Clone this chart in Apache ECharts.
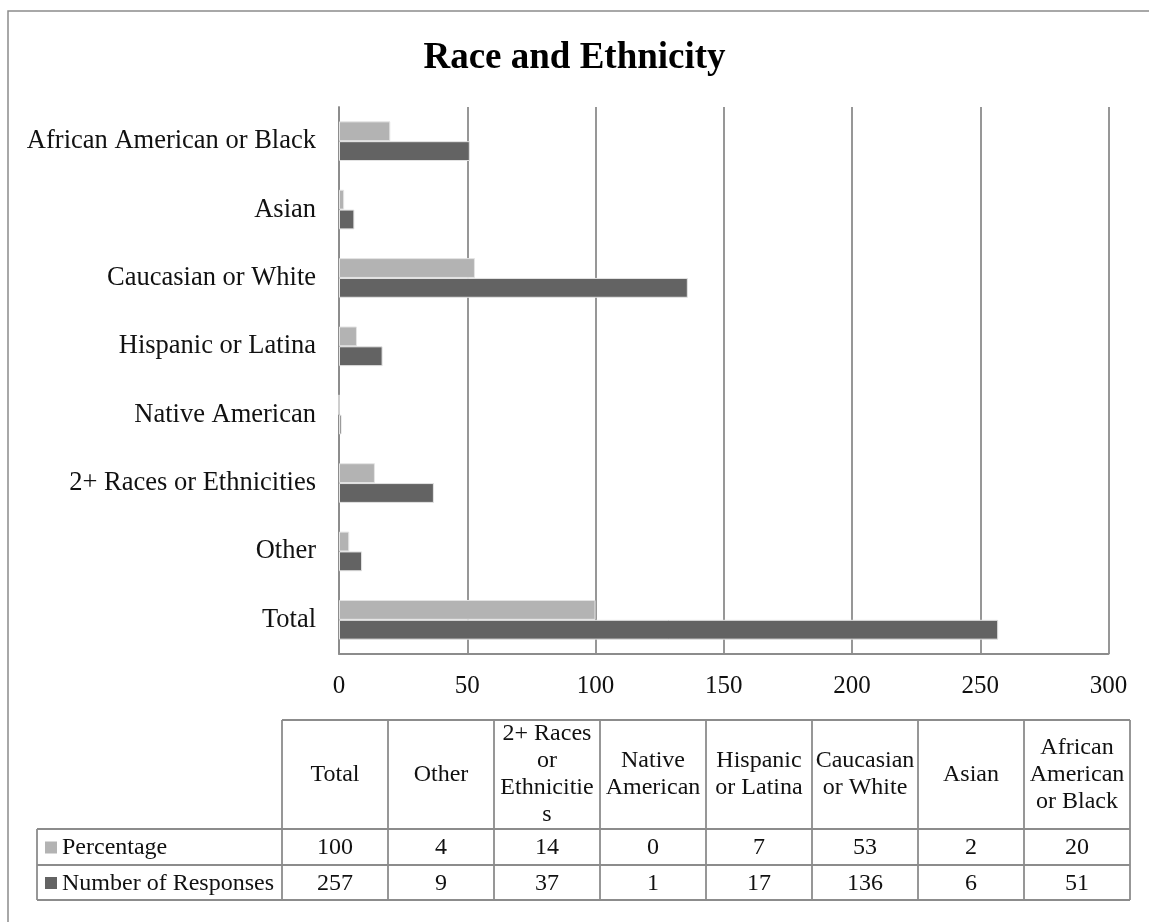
<!DOCTYPE html>
<html>
<head>
<meta charset="utf-8">
<script src="https://cdn.jsdelivr.net/npm/echarts@6/dist/echarts.min.js"></script>
<style>
  html, body { margin: 0; padding: 0; background: #fff; }
  #chart { width: 1149px; height: 922px; }
</style>
</head>
<body>
<div id="chart"></div>
<script>
// Categories, in table order (first one sits at the bottom of the bar chart)
const categories = [
  'Total', 'Other', '2+ Races or Ethnicities', 'Native American',
  'Hispanic or Latina', 'Caucasian or White', 'Asian', 'African American or Black'
];
// Column headings of the data table, wrapped as they appear in their cells
const tableHeaders = [
  'Total', 'Other', '2+ Races\nor\nEthnicitie\ns', 'Native\nAmerican',
  'Hispanic\nor Latina', 'Caucasian\nor White', 'Asian', 'African\nAmerican\nor Black'
];
const seriesNames = ['Percentage', 'Number of Responses'];
const percentage = [100, 4, 14, 0, 7, 53, 2, 20];
const responses = [257, 9, 37, 1, 17, 136, 6, 51];
const xTicks = [0, 50, 100, 150, 200, 250, 300];

const FONT = '"Liberation Serif", "Times New Roman", serif';
const LINE = '#8c8c8c';
const COLORS = ['#b3b3b3', '#636363'];

const chart = echarts.init(document.getElementById('chart'), null, { renderer: 'canvas' });

// ---- data table below the axis ----
const tbl = {
  left: 37, labelRight: 282, colW: 106,
  top: 720, headBottom: 829, row1Bottom: 865, bottom: 900
};
const ncol = categories.length;
const tableRight = tbl.labelRight + tbl.colW * ncol;
const graphics = [];

// chart frame
graphics.push({
  type: 'rect', silent: true,
  shape: { x: 8, y: 11, width: 1300, height: 1100 },
  style: { fill: 'none', stroke: LINE, lineWidth: 1.5 }
});

function hline(x1, x2, y) {
  graphics.push({ type: 'line', silent: true, shape: { x1, y1: y, x2, y2: y },
    style: { stroke: LINE, lineWidth: 1.8 } });
}
function vline(x, y1, y2) {
  graphics.push({ type: 'line', silent: true, shape: { x1: x, y1, x2: x, y2 },
    style: { stroke: LINE, lineWidth: 1.8 } });
}
hline(tbl.labelRight, tableRight, tbl.top);
hline(tbl.left, tableRight, tbl.headBottom);
hline(tbl.left, tableRight, tbl.row1Bottom);
hline(tbl.left, tableRight, tbl.bottom);
vline(tbl.left, tbl.headBottom, tbl.bottom);
for (let i = 0; i <= ncol; i++) {
  vline(tbl.labelRight + tbl.colW * i, tbl.top, tbl.bottom);
}

// header cells
tableHeaders.forEach((h, i) => {
  graphics.push({
    type: 'text', silent: true,
    x: tbl.labelRight + tbl.colW * (i + 0.5),
    y: (tbl.top + tbl.headBottom) / 2,
    style: { text: h, font: '24px ' + FONT, fill: '#111', align: 'center',
      verticalAlign: 'middle', lineHeight: 27 }
  });
});

// value rows with legend keys
const rows = [percentage, responses];
const rowTops = [tbl.headBottom, tbl.row1Bottom];
const rowBottoms = [tbl.row1Bottom, tbl.bottom];
rows.forEach((vals, r) => {
  const cy = (rowTops[r] + rowBottoms[r]) / 2;
  graphics.push({
    type: 'rect', silent: true,
    shape: { x: 45, y: cy - 5.5, width: 12, height: 12 },
    style: { fill: COLORS[r] }
  });
  graphics.push({
    type: 'text', silent: true, x: 62, y: cy + 1,
    style: { text: seriesNames[r], font: '24px ' + FONT, fill: '#111',
      align: 'left', verticalAlign: 'middle' }
  });
  vals.forEach((v, i) => {
    graphics.push({
      type: 'text', silent: true,
      x: tbl.labelRight + tbl.colW * (i + 0.5), y: cy + 1,
      style: { text: String(v), font: '24px ' + FONT, fill: '#111',
        align: 'center', verticalAlign: 'middle' }
    });
  });
});

const option = {
  animation: false,
  backgroundColor: '#fff',
  title: {
    text: 'Race and Ethnicity',
    left: 'center', top: 35,
    textStyle: { fontFamily: FONT, fontWeight: 'bold', fontSize: 37, color: '#000' }
  },
  grid: { left: 339, right: 40.5, top: 107, bottom: 268, containLabel: false },
  xAxis: {
    type: 'value', min: xTicks[0], max: xTicks[xTicks.length - 1],
    interval: xTicks[1] - xTicks[0],
    axisLine: { show: true, lineStyle: { color: LINE, width: 1.8 } },
    axisTick: { show: false },
    splitLine: { show: true, lineStyle: { color: LINE, width: 1.8 } },
    axisLabel: { margin: 20, fontFamily: FONT, fontSize: 25, color: '#111' }
  },
  yAxis: {
    type: 'category', data: categories,
    axisLine: { show: true, lineStyle: { color: LINE, width: 1.8 } },
    axisTick: { show: false },
    axisLabel: { margin: 23, fontFamily: FONT, fontSize: 26.5, color: '#111' }
  },
  series: [
    {
      name: seriesNames[0], type: 'bar', data: percentage,
      barGap: '0%', barCategoryGap: '42%',
      itemStyle: { color: COLORS[0], borderColor: '#e4e4e4', borderWidth: 1 }
    },
    {
      name: seriesNames[1], type: 'bar', data: responses,
      barGap: '0%', barCategoryGap: '42%',
      itemStyle: { color: COLORS[1], borderColor: '#e4e4e4', borderWidth: 1 }
    }
  ],
  graphic: graphics
};

chart.setOption(option);
</script>
</body>
</html>
